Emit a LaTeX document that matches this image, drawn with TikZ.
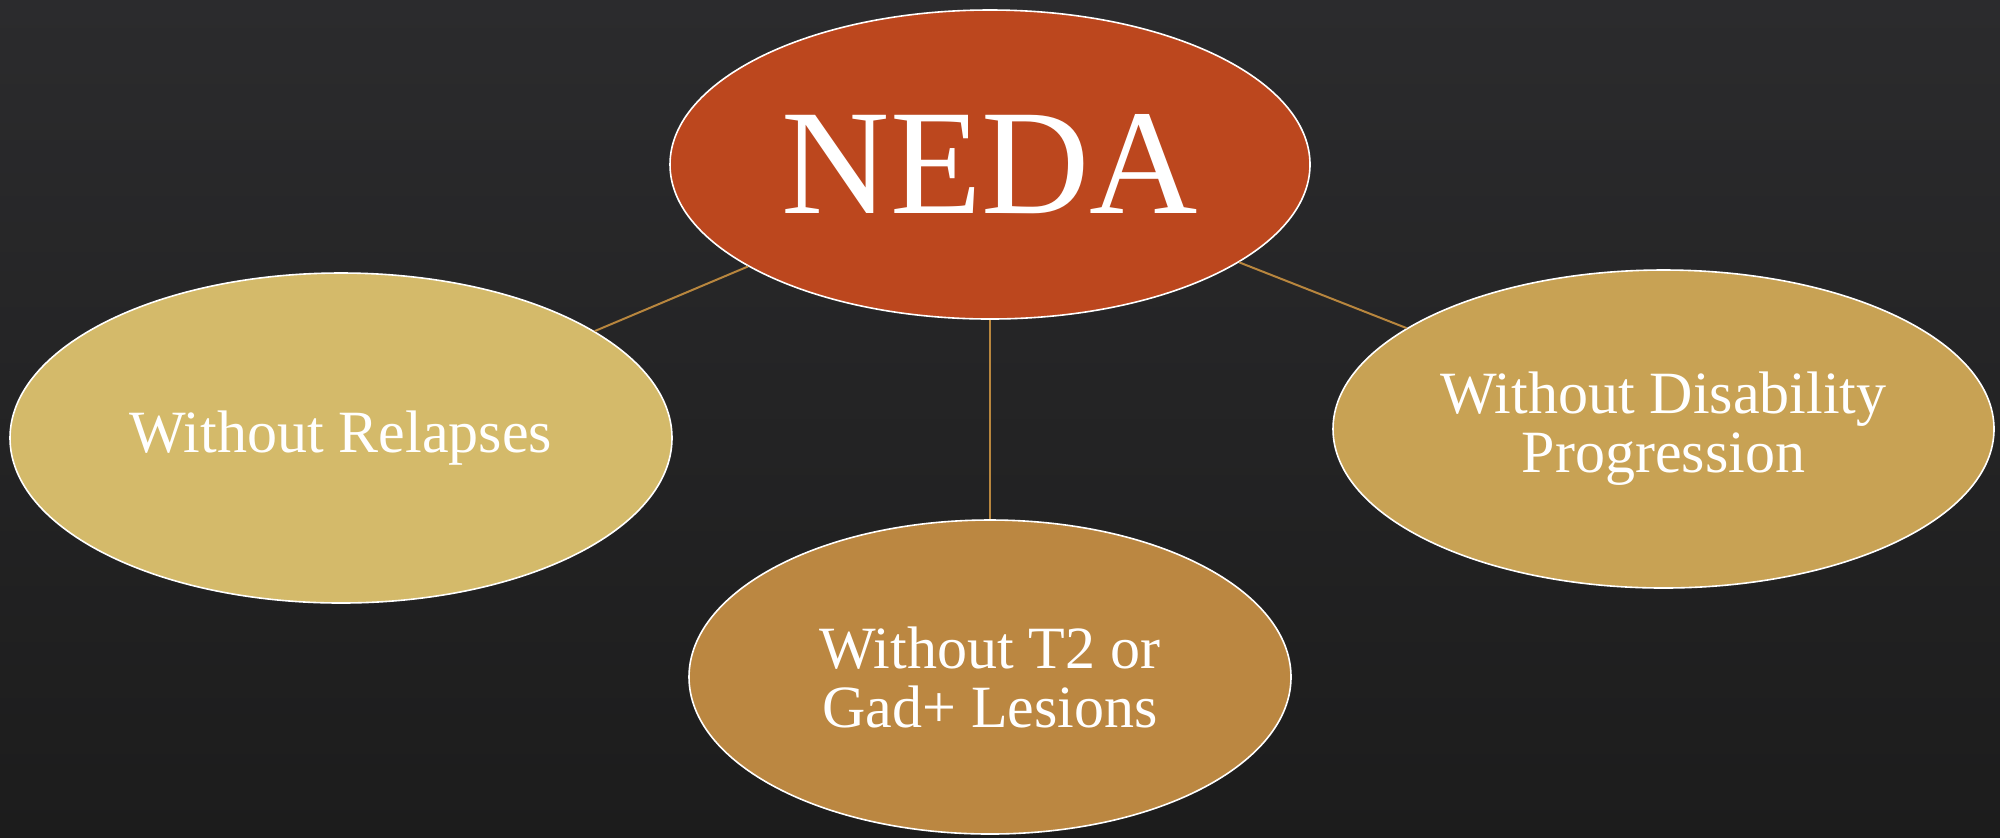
\documentclass[tikz,border=0pt]{standalone}
\usepackage{fontspec}
\setmainfont{Liberation Serif}
\usetikzlibrary{shapes.geometric,backgrounds}
\definecolor{bgtop}{HTML}{2B2B2D}
\definecolor{bgbot}{HTML}{1C1C1C}
\definecolor{nedafill}{HTML}{BC471E}
\definecolor{relfill}{HTML}{D4BA6A}
\definecolor{tfill}{HTML}{BB8741}
\definecolor{disfill}{HTML}{C8A254}
\definecolor{linkcol}{HTML}{B8863E}
\tikzset{
  oval/.style={ellipse, draw=white, line width=0.8pt, inner sep=0pt, text=white, align=center, font=\fontsize{30}{29.5}\selectfont},
  link/.style={draw=linkcol, line width=1pt}
}
\begin{document}
\begin{tikzpicture}[x=0.5pt,y=-0.5pt]
\shade[top color=bgtop, bottom color=bgbot] (0,0) rectangle (2000,837);
\useasboundingbox (0,0) rectangle (2000,837);
\node[oval, fill=nedafill, minimum width=320pt, minimum height=154.5pt, font=\fontsize{75}{75}\selectfont] (neda) at (990,164.5) {NEDA};
\node[oval, fill=relfill, minimum width=331pt, minimum height=165pt] (rel) at (341,438) {Without Relapses};
\node[oval, fill=tfill, minimum width=301pt, minimum height=157pt] (t2) at (990,677) {Without T2 or\\Gad+ Lesions};
\node[oval, fill=disfill, minimum width=330.5pt, minimum height=159pt] (dis) at (1663.5,429) {Without Disability\\Progression};
\draw[link] (neda) -- (rel);
\draw[link] (neda) -- (t2);
\draw[link] (neda) -- (dis);
\end{tikzpicture}
\end{document}
